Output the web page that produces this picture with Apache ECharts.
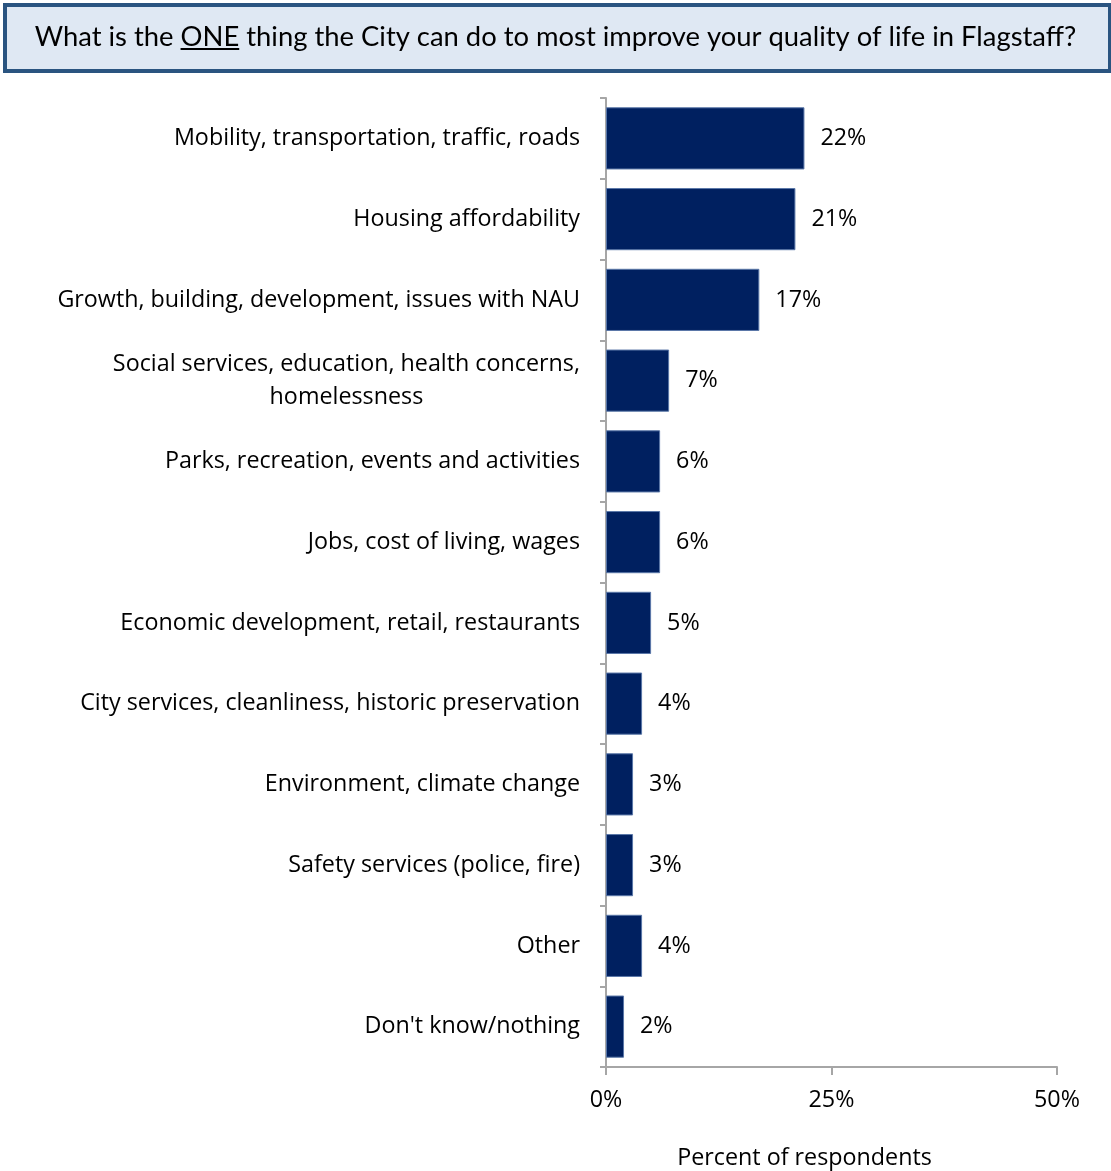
<!DOCTYPE html>
<html><head><meta charset="utf-8">
<script src="https://cdn.jsdelivr.net/npm/echarts@6/dist/echarts.min.js"></script>
<style>html,body{margin:0;padding:0;background:#fff}#c{width:1111px;height:1171px}</style>
</head><body><div id="c"></div>
<script>
const categories = [
  "Mobility, transportation, traffic, roads",
  "Housing affordability",
  "Growth, building, development, issues with NAU",
  "Social services, education, health concerns,\nhomelessness",
  "Parks, recreation, events and activities",
  "Jobs, cost of living, wages",
  "Economic development, retail, restaurants",
  "City services, cleanliness, historic preservation",
  "Environment, climate change",
  "Safety services (police, fire)",
  "Other",
  "Don't know/nothing"
];
const values = [22, 21, 17, 7, 6, 6, 5, 4, 3, 3, 4, 2];
const xTicks = [0, 25, 50];
const titlePre = "What is the ";
const titleEm = "ONE";
const titlePost = " thing the City can do to most improve your quality of life in Flagstaff?";
const axisTitle = "Percent of respondents";

const LABEL_FONT = "Open Sans";
const FS = 23.3;
const TITLE_FONT = "Lato";
const TITLE_SIZE = 27.4;

const mc = document.createElement('canvas').getContext('2d');
mc.font = TITLE_SIZE + 'px ' + TITLE_FONT;
const wPre = mc.measureText(titlePre).width;
const wEm = mc.measureText(titleEm).width;
const wAll = mc.measureText(titlePre + titleEm + titlePost).width;
const titleX = 1111 / 2 - wAll / 2;

const chart = echarts.init(document.getElementById('c'), null, {renderer: 'canvas'});
chart.setOption({
  animation: false,
  backgroundColor: '#ffffff',
  grid: {left: 606, right: 54, top: 98, bottom: 104, containLabel: false, outerBoundsMode: 'none'},
  xAxis: {
    type: 'value', min: 0, max: 50, interval: 25,
    axisLine: {show: true, lineStyle: {color: '#a6a6a6', width: 2}},
    axisTick: {show: true, length: 8, lineStyle: {color: '#a6a6a6', width: 2}},
    splitLine: {show: false},
    axisLabel: {formatter: v => xTicks.includes(v) ? v + '%' : '', color: '#000', fontSize: FS, fontFamily: LABEL_FONT, margin: 22},
    name: axisTitle, nameLocation: 'middle', nameGap: 80,
    nameTextStyle: {color: '#000', fontSize: FS, fontFamily: LABEL_FONT, padding: [0, 54, 0, 0]}
  },
  yAxis: {
    type: 'category', inverse: true, data: categories,
    axisLine: {show: true, lineStyle: {color: '#a6a6a6', width: 2}},
    axisTick: {show: true, length: 6, alignWithLabel: false, lineStyle: {color: '#a6a6a6', width: 2}},
    axisLabel: {
      color: '#000', fontSize: FS, fontFamily: LABEL_FONT, margin: 26,
      formatter: v => v.split('\n').map(s => '{c|' + s + '}').join('\n'),
      rich: {c: {align: 'center', color: '#000', fontSize: FS, fontFamily: LABEL_FONT, lineHeight: 33}}
    }
  },
  series: [{
    type: 'bar', data: values, barCategoryGap: '23%',
    itemStyle: {color: '#002060', borderColor: '#5a77a8', borderWidth: 1},
    label: {show: true, position: 'right', distance: 16, formatter: '{c}%', color: '#000', fontSize: FS, fontFamily: LABEL_FONT}
  }],
  graphic: [
    {type: 'rect', left: 3, top: 3, shape: {width: 1105, height: 66},
     style: {fill: '#dfe8f3', stroke: '#2a5480', lineWidth: 4}, z: 10},
    {type: 'text', x: titleX, y: 37, z: 11,
     style: {text: titlePre + titleEm + titlePost, font: TITLE_SIZE + 'px ' + TITLE_FONT, fill: '#000', textVerticalAlign: 'middle'}},
    {type: 'line', z: 11, shape: {x1: titleX + wPre, y1: 49, x2: titleX + wPre + wEm, y2: 49},
     style: {stroke: '#000', lineWidth: 2}}
  ]
});
</script></body></html>
